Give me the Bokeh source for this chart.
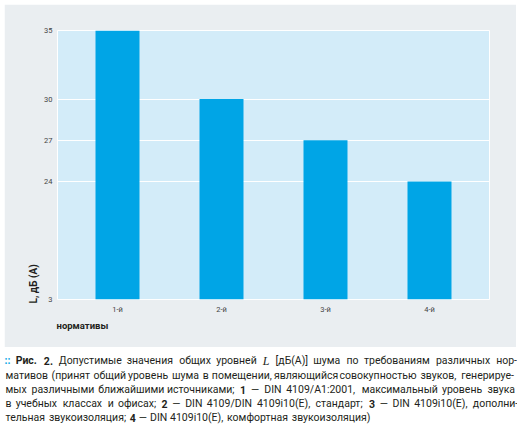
from bokeh.plotting import figure
from bokeh.models import Range1d, FixedTicker, Title, ColumnDataSource, Spacer
from bokeh.layouts import column, row
from bokeh.core.properties import value
from bokeh.embed import file_html
from bokeh.resources import INLINE

# ---- data ----
categories = ["1-й", "2-й", "3-й", "4-й"]
levels = [35, 30, 27, 24]
y_ticks = [24, 27, 30, 35]
y_bottom = 15.4
y_bottom_label = "3"
y_label = "L, дБ (А)"
x_label = "нормативы"

# caption: one list of (text, style) runs per printed line
cap_line1 = [("::", "dots"), ("Рис. 2.", "bold"), ("Допустимые значения общих уровней", "normal"),
             ("L", "var"), ("[дБ(А)] шума по требованиям различных нор-", "normal")]
cap_line2 = [("мативов (принят общий уровень шума в помещении, являющийся совокупностью звуков, генерируе-", "normal")]
cap_line3 = [("мых различными ближайшими источниками;", "normal"), ("1", "bold"),
             ("— DIN 4109/A1:2001, максимальный уровень звука", "normal")]
cap_line4 = [("в учебных классах и офисах;", "normal"), ("2", "bold"),
             ("— DIN 4109/DIN 4109i10(E), стандарт;", "normal"), ("3", "bold"),
             ("— DIN 4109i10(E), дополни-", "normal")]
cap_line5 = [("тельная звукоизоляция;", "normal"), ("4", "bold"),
             ("— DIN 4109i10(E), комфортная звукоизоляция)", "normal")]
cap_lines = [cap_line1, cap_line2, cap_line3, cap_line4, cap_line5]
cap_justify = [True, True, True, True, False]

BAR = "#00A5E6"
PLOT_BG = "#D3ECF9"
PANEL = "#EAEEF1"
TXT = "#231F20"

# ---- chart (grey panel) ----
PW, PH = 512, 343
xs = list(range(1, len(categories) + 1))
p = figure(width=PW, height=PH, output_backend="svg", toolbar_location=None,
           x_range=Range1d(0.423, len(categories) + 0.577),
           y_range=Range1d(y_bottom, max(levels)),
           min_border_left=53, min_border_right=27,
           min_border_top=26, min_border_bottom=48)
p.frame_align = False
p.background_fill_color = PLOT_BG
p.border_fill_color = PANEL
p.outline_line_color = "white"
p.outline_line_width = 1

p.vbar(x=xs, top=levels, bottom=y_bottom, width=0.423, fill_color=BAR, line_color=None)

p.xaxis.ticker = FixedTicker(ticks=xs)
p.xaxis.major_label_overrides = {x: c for x, c in zip(xs, categories)}
p.yaxis.ticker = FixedTicker(ticks=[y_bottom] + y_ticks)
p.yaxis.major_label_overrides = {y_bottom: y_bottom_label}
for ax in (p.xaxis, p.yaxis):
    ax.axis_line_color = None
    ax.major_tick_line_color = None
    ax.minor_tick_line_color = None
    ax.major_tick_out = 0
    ax.major_tick_in = 0
    ax.major_label_text_font = "Roboto"
    ax.major_label_text_font_size = "7.5px"
    ax.major_label_text_color = "#444444"
    ax.major_label_standoff = 5
p.xgrid.grid_line_color = None
p.ygrid.grid_line_color = "white"
p.ygrid.grid_line_width = 1

p.add_layout(Title(text=y_label, align="left", offset=-4, standoff=6,
                   text_font="Roboto", text_font_style="bold",
                   text_font_size="10px", text_color=TXT), "left")
p.add_layout(Title(text=x_label, align="left", offset=-1, standoff=2,
                   text_font="Roboto", text_font_style="bold",
                   text_font_size="9.5px", text_color=TXT), "below")

# ---- caption layout (word-level justification with estimated text widths) ----
CW, CH = 517, 83
LINE_Y = [13, 28, 42, 56, 70]
X0, X1 = 5, 516
FS = 10.5
styles = {
    "normal": ("Roboto", "normal", FS, TXT),
    "bold": ("Roboto", "bold", FS, TXT),
    "var": ("Liberation Serif", "italic", 12.0, TXT),
    "dots": ("Roboto", "bold", FS, BAR),
}

def char_em(ch):
    if ch in "мшщжюыфМШЩЖЮФ": return 0.72
    if ch in "0123456789": return 0.56
    if ch in "DNAБРСЕ": return 0.66
    if ch == "I": return 0.28
    if ch in "()": return 0.34
    if ch in "[]": return 0.27
    if ch == "/": return 0.41
    if ch in ":;,.i": return 0.23
    if ch == "-": return 0.27
    if ch == "—": return 0.80
    if ch == " ": return 0.25
    return 0.54

def raw_em(text):
    return sum(char_em(ch) for ch in text)

CAL = 48.0 / raw_em(cap_line2[0][0])   # calibrated on the measured width of line 2

def width(word, st):
    font, fstyle, size, _ = styles[st]
    if st == "var":
        return 0.56 * size
    k = 1.05 if fstyle == "bold" else 1.0
    return raw_em(word) * CAL * size * k

pieces = {st: dict(x=[], y=[], t=[]) for st in styles}
for li, runs in enumerate(cap_lines):
    words = [(w, st) for txt, st in runs for w in txt.split(" ")]
    widths = [width(w, st) for w, st in words]
    x = X0 - 1 if words[0][1] == "dots" else X0
    gap = 0.25 * FS * CAL
    if cap_justify[li] and len(words) > 1:
        gap = max(gap, (X1 - x - sum(widths)) / (len(words) - 1))
    for (w, st), wd in zip(words, widths):
        pieces[st]["x"].append(x)
        pieces[st]["y"].append(LINE_Y[li])
        pieces[st]["t"].append(w)
        x += wd + gap

c = figure(width=CW, height=CH, output_backend="svg", toolbar_location=None,
           x_range=Range1d(0, CW), y_range=Range1d(CH, 0),
           x_axis_type=None, y_axis_type=None,
           min_border=0, min_border_left=0, min_border_right=0,
           min_border_top=0, min_border_bottom=0)
c.frame_align = False
c.background_fill_color = "white"
c.border_fill_color = "white"
c.outline_line_color = None
c.grid.visible = False

for st, (font, fstyle, size, color) in styles.items():
    if not pieces[st]["t"]:
        continue
    c.text(x="x", y="y", text="t", source=ColumnDataSource(pieces[st]),
           text_align="left", text_baseline="middle",
           text_font=value(font), text_font_style=fstyle,
           text_font_size=f"{size}px", text_color=color)

layout = column(Spacer(height=4), row(Spacer(width=4), p), c, spacing=0)
open("out.html", "w").write(file_html(layout, INLINE))
